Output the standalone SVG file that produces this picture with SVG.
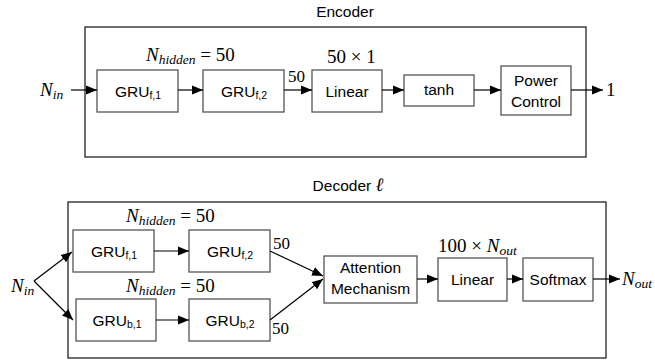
<svg xmlns="http://www.w3.org/2000/svg" width="655" height="360" viewBox="0 0 655 360">
<style>
.frame{fill:#fff;stroke:#222;stroke-width:1.3}
.box{fill:#fff;stroke:#555;stroke-width:1.3}
.t{font-family:"Liberation Sans",Arial,sans-serif;font-size:15.5px;fill:#000;text-anchor:middle}
.s{font-size:10.5px}
.m{font-family:"Liberation Serif","Times New Roman",serif;font-size:19px;fill:#000}
.mi{font-style:italic}
.ms{font-style:italic;font-size:13.5px}
.n{font-family:"Liberation Serif","Times New Roman",serif;font-size:17px;fill:#000}
.c{stroke:#000;stroke-width:1.2;fill:none}
</style>
<defs>
<marker id="ah" markerUnits="userSpaceOnUse" markerWidth="12" markerHeight="10" refX="11" refY="5" orient="auto">
<path d="M0,0.5 L11,5 L0,9.5 Z" fill="#000"/>
</marker>
</defs>

<g id="encoder">
<text class="t" x="345" y="17">Encoder</text>
<rect class="frame" x="85" y="27" width="501" height="130"/>
</g>
<g id="enc-gru-f1"><rect class="box" x="97" y="70" width="81" height="42"/><text class="t" x="138" y="97">GRU<tspan class="s" dy="2">f,1</tspan></text></g>
<g id="enc-gru-f2"><rect class="box" x="203" y="70" width="81" height="42"/><text class="t" x="244" y="97">GRU<tspan class="s" dy="2">f,2</tspan></text></g>
<g id="enc-linear"><rect class="box" x="312" y="70" width="70" height="42"/><text class="t" x="347" y="97">Linear</text></g>
<g id="enc-tanh"><rect class="box" x="404" y="75" width="70" height="31"/><text class="t" x="439" y="95">tanh</text></g>
<g id="enc-power"><rect class="box" x="501" y="66" width="70" height="49"/><text class="t" x="536" y="86">Power</text><text class="t" x="536" y="107">Control</text></g>

<g id="enc-labels">
<text class="m" x="40" y="96"><tspan class="mi">N</tspan><tspan class="ms" dy="3">in</tspan></text>
<text class="m" x="146" y="61"><tspan class="mi">N</tspan><tspan class="ms" dy="3">hidden</tspan><tspan dy="-3"> = 50</tspan></text>
<text class="n" x="288" y="82">50</text>
<text class="m" x="327" y="63">50 × 1</text>
<text class="m" x="606" y="96">1</text>
</g>

<g id="decoder">
<text class="t" x="348" y="191">Decoder <tspan class="m mi" font-size="17">ℓ</tspan></text>
<rect class="frame" x="68" y="202" width="538" height="156"/>
</g>
<g id="dec-gru-f1"><rect class="box" x="73" y="230" width="81" height="42"/><text class="t" x="114" y="257">GRU<tspan class="s" dy="2">f,1</tspan></text></g>
<g id="dec-gru-f2"><rect class="box" x="189" y="230" width="81" height="42"/><text class="t" x="230" y="257">GRU<tspan class="s" dy="2">f,2</tspan></text></g>
<g id="dec-gru-b1"><rect class="box" x="76" y="299" width="80" height="42"/><text class="t" x="117" y="326">GRU<tspan class="s" dy="2">b,1</tspan></text></g>
<g id="dec-gru-b2"><rect class="box" x="189" y="299" width="81" height="42"/><text class="t" x="230" y="326">GRU<tspan class="s" dy="2">b,2</tspan></text></g>
<g id="dec-attention"><rect class="box" x="324" y="256" width="93" height="47"/><text class="t" x="370.5" y="273">Attention</text><text class="t" x="370.5" y="294">Mechanism</text></g>
<g id="dec-linear"><rect class="box" x="438" y="258" width="69" height="43"/><text class="t" x="472.5" y="285">Linear</text></g>
<g id="dec-softmax"><rect class="box" x="523" y="258" width="70" height="43"/><text class="t" x="558" y="285">Softmax</text></g>

<g id="dec-labels">
<text class="m" x="11" y="292"><tspan class="mi">N</tspan><tspan class="ms" dy="3">in</tspan></text>
<text class="m" x="126" y="222"><tspan class="mi">N</tspan><tspan class="ms" dy="3">hidden</tspan><tspan dy="-3"> = 50</tspan></text>
<text class="m" x="126" y="292"><tspan class="mi">N</tspan><tspan class="ms" dy="3">hidden</tspan><tspan dy="-3"> = 50</tspan></text>
<text class="n" x="273" y="249">50</text>
<text class="n" x="272" y="334">50</text>
<text class="m" x="438" y="252">100 × <tspan class="mi">N</tspan><tspan class="ms" dy="3">out</tspan></text>
<text class="m" x="622" y="285"><tspan class="mi">N</tspan><tspan class="ms" dy="3">out</tspan></text>
</g>

<g id="connectors">
<line class="c" x1="71" y1="90" x2="97" y2="90" marker-end="url(#ah)"/>
<line class="c" x1="178" y1="90" x2="203" y2="90" marker-end="url(#ah)"/>
<line class="c" x1="284" y1="90" x2="312" y2="90" marker-end="url(#ah)"/>
<line class="c" x1="382" y1="90" x2="404" y2="90" marker-end="url(#ah)"/>
<line class="c" x1="474" y1="90" x2="501" y2="90" marker-end="url(#ah)"/>
<line class="c" x1="571" y1="90" x2="603" y2="90" marker-end="url(#ah)"/>
<line class="c" x1="34" y1="281" x2="72" y2="252" marker-end="url(#ah)"/>
<line class="c" x1="34" y1="281" x2="73" y2="320" marker-end="url(#ah)"/>
<line class="c" x1="154" y1="251" x2="189" y2="251" marker-end="url(#ah)"/>
<line class="c" x1="156" y1="320" x2="189" y2="320" marker-end="url(#ah)"/>
<line class="c" x1="270" y1="251" x2="323" y2="276" marker-end="url(#ah)"/>
<line class="c" x1="270" y1="320" x2="323" y2="279" marker-end="url(#ah)"/>
<line class="c" x1="417" y1="279" x2="438" y2="279" marker-end="url(#ah)"/>
<line class="c" x1="507" y1="279" x2="523" y2="279" marker-end="url(#ah)"/>
<line class="c" x1="593" y1="279" x2="620" y2="279" marker-end="url(#ah)"/>
</g>
</svg>
